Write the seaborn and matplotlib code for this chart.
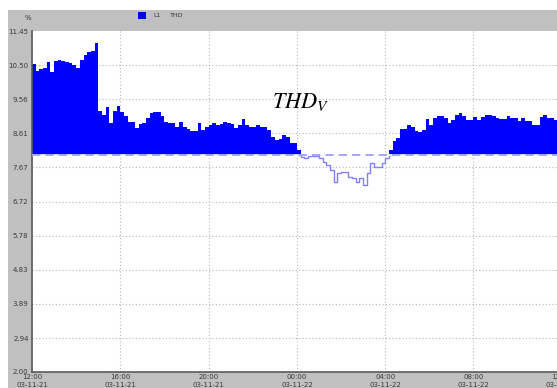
import numpy as np
import pandas as pd
import matplotlib
matplotlib.use("Agg")
import matplotlib.pyplot as plt
from matplotlib.patches import Rectangle
import seaborn as sns

# THD of phase L1, 10-minute samples starting 12:00 on 03-11-21 (percent)
thd_l1 = [
    10.53, 10.35, 10.40, 10.42, 10.60, 10.30, 10.62, 10.65, 10.62, 10.58,
    10.55, 10.50, 10.43, 10.65, 10.78, 10.87, 10.90, 11.12, 9.22, 9.12,
    9.34, 8.90, 9.22, 9.37, 9.20, 9.10, 8.93, 8.93, 8.76, 8.87,
    8.90, 9.04, 9.18, 9.20, 9.20, 9.10, 8.93, 8.90, 8.90, 8.79,
    8.93, 8.79, 8.73, 8.68, 8.68, 8.90, 8.71, 8.79, 8.85, 8.90,
    8.85, 8.87, 8.93, 8.90, 8.88, 8.76, 8.85, 9.00, 8.85, 8.79,
    8.79, 8.85, 8.79, 8.79, 8.71, 8.52, 8.43, 8.45, 8.57, 8.50,
    8.35, 8.35, 8.15, 7.97, 7.93, 7.99, 7.99, 7.98, 7.93, 7.82,
    7.74, 7.60, 7.27, 7.52, 7.55, 7.55, 7.41, 7.38, 7.27, 7.38,
    7.18, 7.52, 7.79, 7.68, 7.68, 7.79, 7.93, 8.15, 8.40, 8.48,
    8.73, 8.73, 8.85, 8.79, 8.68, 8.65, 8.71, 9.01, 8.85, 9.04,
    9.10, 9.10, 9.04, 8.90, 8.98, 9.12, 9.18, 9.10, 8.98, 8.98,
    9.07, 8.98, 9.07, 9.12, 9.12, 9.10, 9.04, 9.01, 9.01, 9.10,
    9.04, 9.04, 8.95, 9.04, 8.95, 8.95, 8.85, 8.85, 9.07, 9.12,
    9.04, 9.04, 8.98, 8.98,
]
sample_minutes = 10
thd_limit = 8.0

y_ticks = [2.00, 2.94, 3.89, 4.83, 5.78, 6.72, 7.67, 8.61, 9.56, 10.50, 11.45]
x_tick_hours = [0, 4, 8, 12, 16, 20, 24]
x_tick_times = ["12:00", "16:00", "20:00", "00:00", "04:00", "08:00", "12:00"]
x_tick_dates = ["03-11-21", "03-11-21", "03-11-21", "03-11-22", "03-11-22",
                "03-11-22", "03-11-22"]

sns.set_style("white")
plt.rcParams["font.family"] = ["DejaVu Sans"]
plt.rcParams["mathtext.fontset"] = "stix"

W, H = 557, 388
fig = plt.figure(figsize=(W / 100, H / 100), dpi=100, facecolor="white")

# grey window panel behind the plot
fig.patches.append(Rectangle((8 / W, 0), 1, 1 - 10 / H, transform=fig.transFigure,
                             facecolor="#c0c0c0", edgecolor="none", zorder=-5))

ax_left, ax_top, ax_bottom = 32, 31, 372
px_per_hour = 88.3 / 4
ax_width = 24 * px_per_hour
ax = fig.add_axes([ax_left / W, 1 - ax_bottom / H, ax_width / W,
                   (ax_bottom - ax_top) / H])
ax.set_facecolor("white")

vals = np.array(thd_l1)
hours = np.arange(len(vals) + 1) * sample_minutes / 60.0
vals_ext = np.append(vals, vals[-1])
df = pd.DataFrame({"hour": hours, "thd": vals_ext})

# portion above the limit: solid blue step area
ax.fill_between(df["hour"], np.maximum(df["thd"], thd_limit), thd_limit,
                step="post", color="#0000ff", linewidth=0, zorder=2)

# portion below the limit: outline only
below = np.where(vals < thd_limit)[0]
i0, i1 = max(below.min() - 1, 0), min(below.max() + 2, len(vals_ext))
dip = df.iloc[i0:i1 + 1].copy()
dip["thd"] = np.minimum(dip["thd"], thd_limit)
sns.lineplot(data=dip, x="hour", y="thd", drawstyle="steps-post",
             color="#8282ff", linewidth=1.0, ax=ax, zorder=3)

# limit reference line
ax.axhline(thd_limit, color="white", linewidth=1.2, zorder=4)
ax.axhline(thd_limit, color="#9696ff", linewidth=1.2, dashes=(5, 3), zorder=5)

ax.set_xlim(0, 24)
ax.set_ylim(y_ticks[0], y_ticks[-1])
ax.set_yticks(y_ticks)
ax.set_yticklabels([f"{v:.2f}" for v in y_ticks])
ax.set_xticks(x_tick_hours)
ax.set_xticklabels([f"{t}\n{d}" for t, d in zip(x_tick_times, x_tick_dates)],
                   linespacing=1.35)
ax.tick_params(axis="both", length=0, labelsize=5, labelcolor="#3a3a3a")
ax.tick_params(axis="y", pad=2.5)
ax.tick_params(axis="x", pad=1.5)
ax.set_xlabel("")
ax.set_ylabel("")

ax.grid(True, color="#b4b4b4", linestyle=(0, (1, 2)), linewidth=0.8, zorder=1)
ax.set_axisbelow(True)
ax.get_ygridlines()[-1].set_visible(False)
ax.get_ygridlines()[0].set_visible(False)
for side in ["top", "right"]:
    ax.spines[side].set_visible(False)
for side in ["left", "bottom"]:
    ax.spines[side].set_color("#5a5a5a")
    ax.spines[side].set_linewidth(1.2)

ax.text(10.87, 9.32, r"$THD_V$", fontsize=16, ha="left", va="baseline",
        color="black", zorder=6)

# header: unit and legend
fig.text(28 / W, 1 - 18 / H, "%", fontsize=5, color="#3a3a3a",
         ha="center", va="center")
fig.patches.append(Rectangle((138 / W, 1 - 19 / H), 8 / W, 7 / H,
                             transform=fig.transFigure, facecolor="#0000ff",
                             edgecolor="none", zorder=3))
fig.text(153 / W, 1 - 15.5 / H, "L1", fontsize=4.5, color="#3a3a3a",
         ha="left", va="center")
fig.text(170 / W, 1 - 15.5 / H, "THD", fontsize=4.5, color="#3a3a3a",
         ha="left", va="center")

fig.savefig("out.png", dpi=100, facecolor=fig.get_facecolor())
